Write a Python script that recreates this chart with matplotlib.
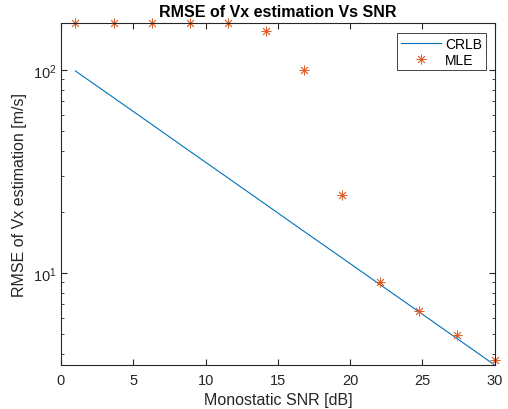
import matplotlib
matplotlib.use("Agg")
import matplotlib.pyplot as plt
from matplotlib.ticker import LogLocator, NullFormatter

plt.rcParams['font.family'] = ['Liberation Sans', 'DejaVu Sans']
plt.rcParams['mathtext.fontset'] = 'custom'
plt.rcParams['mathtext.rm'] = 'Liberation Sans'

# SNR grid (dB)
snr = [1.0, 3.636, 6.273, 8.909, 11.545, 14.182, 16.818, 19.455, 22.091, 24.727, 27.364, 30.0]
# Cramer-Rao lower bound on RMSE [m/s]
crlb = [99.0, 73.1, 54.0, 39.8, 29.4, 21.7, 16.0, 11.83, 8.73, 6.45, 4.76, 3.51]
# MLE RMSE [m/s]
mle = [171, 171, 171, 170, 170, 155.6, 100, 24.2, 9.0, 6.52, 4.95, 3.70]

axc = '#262626'
fig = plt.figure(figsize=(5.08, 4.10), dpi=100)
ax = fig.add_axes([0.120, 0.107, 0.854, 0.835])

ax.plot(snr, crlb, color='#0072BD', lw=0.8, label='CRLB')
ax.plot(snr, mle, ls='none', marker=(8, 2, 0), ms=7, mew=0.6,
        color='#E0602A', label='MLE', clip_on=False)

ax.set_yscale('log')
ax.set_xlim(0, 30)
ax.set_ylim(min(crlb), max(mle))
ax.set_xticks(range(0, 31, 5))
ax.yaxis.set_minor_locator(LogLocator(base=10, subs=range(2, 10)))
ax.yaxis.set_minor_formatter(NullFormatter())

for s in ax.spines.values():
    s.set_color(axc)
    s.set_linewidth(0.8)
ax.tick_params(which='both', direction='in', top=True, right=True,
               colors=axc, labelsize=10.5, labelcolor=axc)
ax.tick_params(which='major', length=4)
ax.tick_params(which='minor', length=2.5)
ax.tick_params(axis='x', pad=6)

ax.set_title('RMSE of Vx estimation Vs SNR', fontsize=11.5, fontweight='bold', pad=5)
ax.set_xlabel('Monostatic SNR [dB]', fontsize=11.5, color=axc, labelpad=3)
ax.set_ylabel('RMSE of Vx estimation [m/s]', fontsize=11.5, color=axc, labelpad=4)

leg = ax.legend(loc='upper right', bbox_to_anchor=(0.979, 0.970), borderaxespad=0,
                fontsize=10, frameon=True, fancybox=False, edgecolor=axc,
                framealpha=1, handlelength=2.9, handletextpad=0.3,
                borderpad=0.25, labelspacing=0.15)
leg.get_frame().set_linewidth(0.6)

fig.savefig('out.png', dpi=100)
